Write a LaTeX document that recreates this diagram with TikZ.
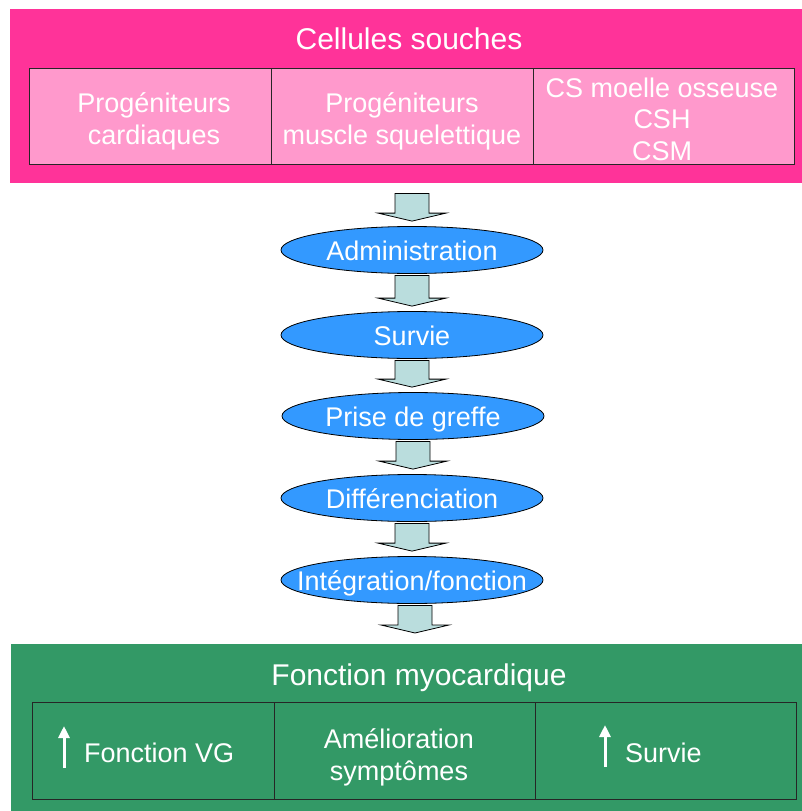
\documentclass[tikz,border=0pt]{standalone}
\usepackage{fontspec}
\setmainfont{Liberation Sans}
\usetikzlibrary{calc,shapes.geometric,arrows.meta}
\definecolor{pinkbg}{HTML}{FF3399}
\definecolor{pinkcell}{HTML}{FF99CC}
\definecolor{greenbg}{HTML}{339966}
\definecolor{ellblue}{HTML}{3399FF}
\definecolor{arrowfill}{HTML}{BADDDD}
\tikzset{
  panel/.style={rectangle, draw=none, inner sep=0pt, anchor=north west},
  cell/.style={rectangle, draw=black!85, line width=1pt, inner sep=0pt, anchor=north west},
  titletext/.style={text=white, inner sep=0pt, font=\fontsize{30}{34}\selectfont},
  celltext/.style={text=white, inner sep=0pt, align=center, font=\fontsize{27}{31.5}\selectfont},
  stage/.style={ellipse, draw=black, line width=0.8pt, fill=ellblue, minimum width=262pt,
    minimum height=47pt, inner sep=0pt, text=white, text height=21pt, text depth=0pt,
    font=\fontsize{27}{31}\selectfont},
  blockarrow/.style={draw=black, line width=0.8pt, fill=arrowfill, line join=miter},
  uparrow/.style={draw=white, line width=3pt, -{Triangle[length=12pt,width=11pt]}},
}
% #1 x reference, #2 from, #3 to, #4 gap below source, #5 gap above target
\newcommand\barrow[5]{%
  \draw[blockarrow] let \p3=(#1), \p1=(#2), \p2=(#3) in
    (\x3-17pt,\y1-#4) -- (\x3+17pt,\y1-#4) -- (\x3+17pt,\y2+#5+8pt) --
    (\x3+34pt,\y2+#5+8pt) -- (\x3,\y2+#5) -- (\x3-34pt,\y2+#5+8pt) --
    (\x3-17pt,\y2+#5+8pt) -- cycle;}
\begin{document}
\begin{tikzpicture}[x=1pt,y=-1pt]
\useasboundingbox (0,0) rectangle (802,811);
% top panel
\node[panel, fill=pinkbg, minimum width=795pt, minimum height=174pt] (top) at (10,9) {};
\node[titletext] (ttop) at (409,39) {Cellules souches};
\node[cell, fill=pinkcell, minimum width=242pt, minimum height=96pt] (c1) at (29,68) {};
\node[cell, fill=pinkcell, minimum width=262pt, minimum height=96pt] (c2) at (271,68) {};
\node[cell, fill=pinkcell, minimum width=261pt, minimum height=96pt] (c3) at (533,68) {};
\node[celltext] (c1t) at (154,121.5) {Progéniteurs\\cardiaques};
\node[celltext] (c2t) at (402,121.5) {Progéniteurs\\muscle squelettique};
\node[celltext] (c3t) at (662,119) {CS moelle osseuse\\CSH\\CSM};
% bottom panel
\node[panel, fill=greenbg, minimum width=794pt, minimum height=170pt] (bot) at (11,644) {};
\node[titletext] (tbot) at (419,678) {Fonction myocardique};
\node[cell, minimum width=242pt, minimum height=97pt] (d1) at (32,702) {};
\node[cell, minimum width=261pt, minimum height=97pt] (d2) at (274,702) {};
\node[cell, minimum width=261pt, minimum height=97pt] (d3) at (535,702) {};
\node[celltext, anchor=west] (fvg) at (84,753) {Fonction VG};
\node[celltext] (amel) at (399,757.5) {Amélioration\\symptômes};
\node[celltext, anchor=west] (surv) at (625,753) {Survie};
\coordinate (ua1s) at (64,768);
\coordinate (ua1e) at (64,726);
\coordinate (ua2s) at (605,767);
\coordinate (ua2e) at (605,725);
\draw[uparrow] (ua1s) -- (ua1e);
\draw[uparrow] (ua2s) -- (ua2e);
% stages
\node[stage] (e1) at (412,250) {Administration};
\node[stage] (e2) at (412,335) {Survie};
\node[stage] (e3) at (413,416) {Prise de greffe};
\node[stage] (e4) at (412,498) {Différenciation};
\node[stage] (e5) at (412,580) {\makebox[0pt]{Intégration/fonction}};
% block arrows
\barrow{e1.north}{top.south}{e1.north}{10pt}{5pt}
\barrow{e1.south}{e1.south}{e2.north}{1.5pt}{5pt}
\barrow{e2.south}{e2.south}{e3.north}{1.5pt}{5pt}
\barrow{e3.south}{e3.south}{e4.north}{1.5pt}{5pt}
\barrow{e4.south}{e4.south}{e5.north}{1.5pt}{5pt}
\barrow{$(e5.south)+(3,0)$}{e5.south}{bot.north}{1.5pt}{11pt}
\end{tikzpicture}
\end{document}
